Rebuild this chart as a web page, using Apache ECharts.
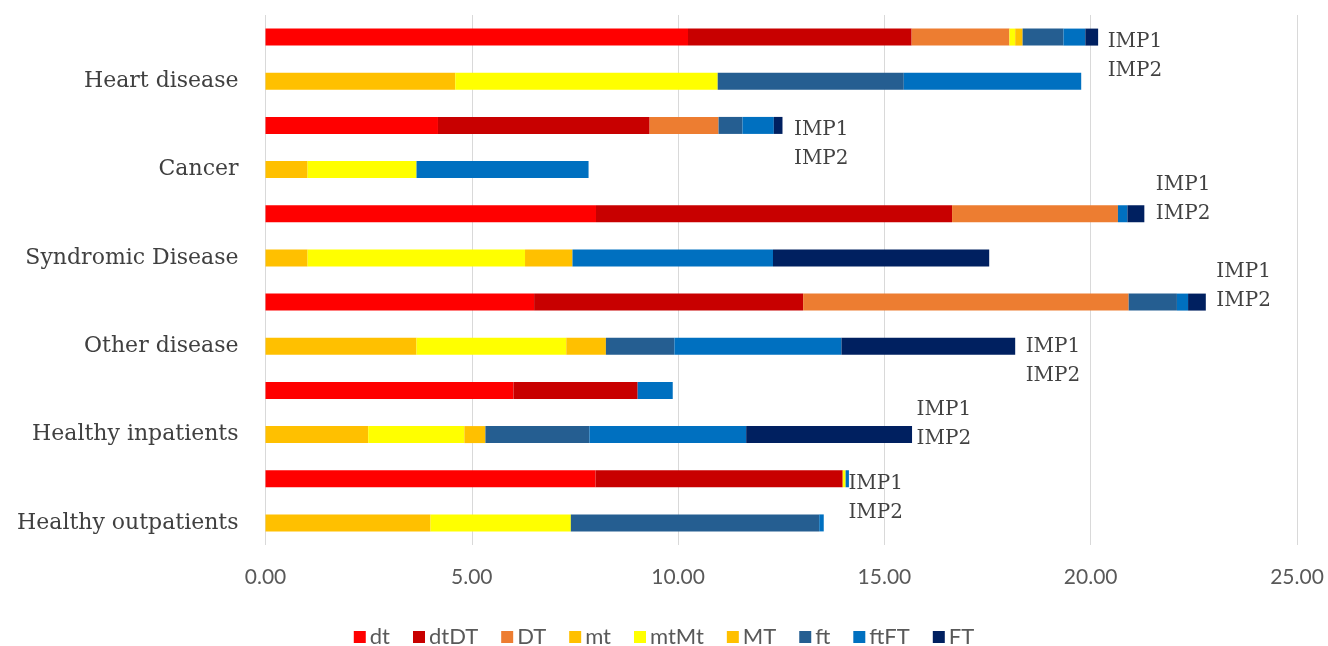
<!DOCTYPE html>
<html>
<head>
<meta charset="utf-8">
<script src="https://cdn.jsdelivr.net/npm/echarts@6/dist/echarts.min.js"></script>
<style>
html,body{margin:0;padding:0;background:#fff;}
#main{width:1328px;height:646px;}
</style>
</head>
<body>
<div id="main"></div>
<script>
// ---- data ----
const categories = ['Heart disease','Cancer','Syndromic Disease','Other disease','Healthy inpatients','Healthy outpatients'];
const groups = ['IMP1','IMP2'];
const seriesNames = ['dt','dtDT','DT','mt','mtMt','MT','ft','ftFT','FT'];
// each array: 12 rows, top to bottom (category IMP1 row, then IMP2 row)
const dt   = [10.24,0,    4.18,0,    8.01,0,    6.51,0,    6.01,0,    8.00,0];
const dtDT = [5.42,0,     5.13,0,    8.63,0,    6.52,0,    3.01,0,    5.99,0];
const DT   = [2.37,0,     1.67,0,    4.02,0,    7.89,0,    0,0,       0,0];
const mt   = [0,4.60,     0,1.02,    0,1.02,    0,3.66,    0,2.49,    0,4.00];
const mtMt = [0.14,6.36,  0,2.64,    0,5.27,    0,3.63,    0,2.33,    0.07,3.40];
const MT   = [0.18,0,     0,0,       0,1.15,    0,0.96,    0,0.51,    0,0];
const ft   = [0.99,4.51,  0.58,0,    0,0,       1.17,1.66, 0,2.52,    0,6.02];
const ftFT = [0.53,4.30,  0.76,4.17, 0.23,4.86, 0.27,4.05, 0.85,3.80, 0.08,0.11];
const FT   = [0.31,0,     0.21,0,    0.41,5.24, 0.43,4.21, 0,4.02,    0,0];
const xTicks = [0,5,10,15,20,25];
const impLabelText = 'IMP1\nIMP2';

// ---- style / layout ----
const colors = ['#FF0000','#C80000','#ED7D31','#FFC000','#FFFF00','#FFC000','#255E91','#0070C0','#002060'];
// rows that carry the floating "IMP1/IMP2" label, with pixel offsets [dx, dy]
const labelRows = [0,2,4,6,7,9,10];
const labelOffsets = [[9,19],[11,19],[11,-14],[10,-16],[10,15],[4,-10],[-1,20]];

const values = [dt,dtDT,DT,mt,mtMt,MT,ft,ftFT,FT];
const rowNames = [];
categories.forEach(c => groups.forEach(g => rowNames.push(c + '|' + g)));
const totals = rowNames.map((_, i) => values.reduce((s, arr) => s + arr[i], 0));

const chart = echarts.init(document.getElementById('main'), null, {renderer:'canvas'});
const barSeries = seriesNames.map((n, k) => ({
  name: n,
  type: 'bar',
  stack: 'total',
  barWidth: 17,
  itemStyle: {color: colors[k]},
  emphasis: {disabled: true},
  data: values[k]
}));

const labelSeries = {
  name: 'labels',
  type: 'scatter',
  symbolSize: 1,
  itemStyle: {color: 'rgba(0,0,0,0)'},
  silent: true,
  z: 10,
  data: labelRows.map((r, j) => ({
    value: [totals[r], rowNames[r]],
    label: {
      show: true,
      position: 'right',
      distance: 0,
      offset: labelOffsets[j],
      formatter: impLabelText,
      fontFamily: 'DejaVu Serif',
      fontSize: 20,
      lineHeight: 29,
      color: '#111111'
    }
  }))
};

chart.setOption({
  animation: false,
  backgroundColor: '#ffffff',
  grid: {left: 265.5, right: 31, top: 15, bottom: 101, containLabel: false, outerBoundsMode: 'none'},
  legend: {
    data: seriesNames,
    left: 'center',
    top: 621,
    icon: 'rect',
    itemWidth: 12,
    itemHeight: 12,
    itemGap: 23,
    textStyle: {fontFamily: 'Lato', fontSize: 22, color: '#595959', padding: [0,0,0,-1]}
  },
  xAxis: {
    type: 'value',
    min: xTicks[0],
    max: xTicks[xTicks.length - 1],
    interval: xTicks[1] - xTicks[0],
    axisLine: {show: false},
    axisTick: {show: false},
    splitLine: {show: true, lineStyle: {color: '#d9d9d9', width: 1}},
    axisLabel: {
      formatter: v => v.toFixed(2),
      fontFamily: 'Lato',
      fontSize: 21,
      color: '#595959',
      margin: 22
    }
  },
  yAxis: {
    type: 'category',
    inverse: true,
    data: rowNames,
    axisLine: {show: false},
    axisTick: {show: false},
    splitLine: {show: false},
    axisLabel: {
      interval: 0,
      margin: 27,
      fontFamily: 'DejaVu Serif',
      fontSize: 22,
      color: '#404040',
      formatter: v => {
        const [c, g] = v.split('|');
        return g === groups[1] ? c : '';
      }
    }
  },
  series: barSeries.concat([labelSeries])
});
</script>
</body>
</html>
